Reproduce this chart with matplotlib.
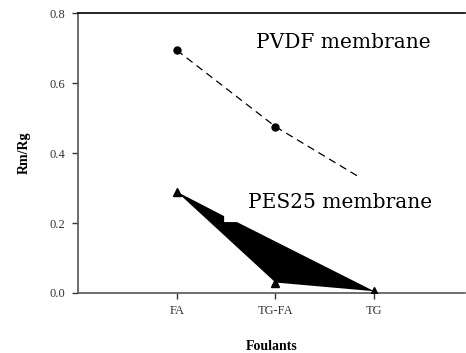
import matplotlib
matplotlib.use("Agg")
import matplotlib.pyplot as plt
from matplotlib.patches import Rectangle
import numpy as np

# Foulant categories and Rm/Rg ratios
foulants = ['FA', 'TG-FA', 'TG']
pvdf = [0.695, 0.476, 0.306]
pes25 = [0.29, 0.03, 0.005]

# outline of the shaded PES25 band (x position, Rm/Rg)
band_x = [0.0, 0.48, 0.48, 0.61, 2.0, 1.0]
band_y = [0.29, 0.22, 0.203, 0.203, 0.005, 0.03]

plt.rcParams['font.family'] = ['Liberation Serif', 'DejaVu Serif']

fig = plt.figure(figsize=(4.66, 3.53), dpi=100)
ax = fig.add_axes([0.1674, 0.170, 0.8305, 0.7918])

x = np.arange(len(foulants))

ax.plot(x, pvdf, linestyle=(0, (6, 4)), color='black', linewidth=0.9,
        marker='o', markersize=5, zorder=2)
ax.fill(band_x, band_y, color='black', linewidth=0, zorder=2)
ax.plot(x, pes25, linestyle='none', color='black', marker='^', markersize=6,
        zorder=3)

ax.text(1.692, 0.702, 'PVDF membrane', fontsize=14.5, ha='center',
        va='baseline', family=['DejaVu Serif'], zorder=5)
# white label box for the PES25 caption, sits over the end of the PVDF line
ax.add_patch(Rectangle((1.84, 0.23), 0.9, 0.105, facecolor='white',
                       edgecolor='none', zorder=4))
ax.text(1.652, 0.2435, 'PES25 membrane', fontsize=14.5, ha='center',
        va='baseline', family=['DejaVu Serif'], zorder=5,
        bbox=dict(facecolor='white', edgecolor='none',
                  boxstyle='square,pad=0.3'))

ax.set_xlim(-1.0, 2.92)
ax.set_ylim(0, 0.8)
ax.set_xticks(x)
ax.set_xticklabels(foulants)
ax.set_yticks([0.0, 0.2, 0.4, 0.6, 0.8])
ax.set_yticklabels(['0.0', '0.2', '0.4', '0.6', '0.8'])
ax.tick_params(labelsize=9, colors='#333333', length=4, width=1, pad=5)

ax.spines['right'].set_visible(False)
ax.spines['top'].set_color('black')
ax.spines['top'].set_linewidth(1.2)
for s in ['left', 'bottom']:
    ax.spines[s].set_color('#555555')
    ax.spines[s].set_linewidth(1.2)

ax.set_xlabel('Foulants', fontsize=10, fontweight='bold', labelpad=16)
ax.set_ylabel('Rm/Rg', fontsize=10, fontweight='bold', labelpad=14)

fig.savefig('out.png', dpi=100)
